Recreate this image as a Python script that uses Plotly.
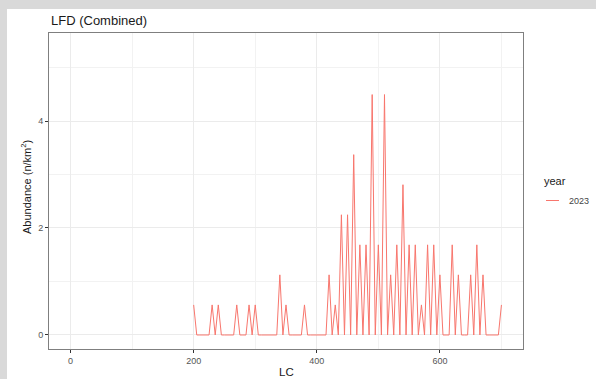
import plotly.graph_objects as go

# Length class (mm) and abundance (n/km^2) for the combined 2023 sample
LC = [200, 205, 210, 215, 220, 225, 230, 235, 240, 245,
      250, 255, 260, 265, 270, 275, 280, 285, 290, 295,
      300, 305, 310, 315, 320, 325, 330, 335, 340, 345,
      350, 355, 360, 365, 370, 375, 380, 385, 390, 395,
      400, 405, 410, 415, 420, 425, 430, 435, 440, 445,
      450, 455, 460, 465, 470, 475, 480, 485, 490, 495,
      500, 505, 510, 515, 520, 525, 530, 535, 540, 545,
      550, 555, 560, 565, 570, 575, 580, 585, 590, 595,
      600, 605, 610, 615, 620, 625, 630, 635, 640, 645,
      650, 655, 660, 665, 670, 675, 680, 685, 690, 695,
      700]

abundance = [0.562, 0, 0, 0, 0, 0, 0.562, 0, 0.562, 0,
             0, 0, 0, 0, 0.562, 0, 0, 0, 0.562, 0,
             0.562, 0, 0, 0, 0, 0, 0, 0, 1.124, 0,
             0.562, 0, 0, 0, 0, 0, 0.562, 0, 0, 0,
             0, 0, 0, 0, 1.124, 0, 0.562, 0, 2.247, 0,
             2.247, 0, 3.371, 0, 1.685, 0, 1.685, 0, 4.494, 0,
             1.685, 0, 4.494, 0, 1.124, 0, 1.685, 0, 2.809, 0,
             1.685, 0, 1.685, 0, 0.562, 0, 1.685, 0, 1.685, 0,
             1.124, 0, 0, 0, 1.685, 0, 1.124, 0, 0, 0,
             1.124, 0, 1.685, 0, 1.124, 0, 0, 0, 0, 0,
             0.562]

year = "2023"
x_ticks = [0, 200, 400, 600]
y_ticks = [0, 2, 4]

LINE_COLOR = "#F8766D"
FONT = "Liberation Sans, Arial, sans-serif"

W, H = 596, 379
L, R, T, B = 49, 523, 33, 349  # plot panel edges in pixels


def px_x(p):
    return (p - L) / (R - L)


def px_y(p):
    return (B - p) / (B - T)


fig = go.Figure(
    go.Scatter(
        x=LC, y=abundance, mode="lines", name=year,
        line=dict(color=LINE_COLOR, width=1),
        showlegend=False,
    )
)

axis_common = dict(
    showgrid=True, gridcolor="#ebebeb", gridwidth=1,
    ticks="outside", ticklen=3, tickwidth=1, tickcolor="#333333",
    tickfont=dict(size=9, color="#555555", family=FONT),
    showline=True, linecolor="#7f7f7f", linewidth=1, mirror=True,
    zeroline=False,
)

fig.update_xaxes(
    range=[-35, 735], tickvals=x_ticks,
    minor=dict(dtick=100, tick0=0, showgrid=True, gridcolor="#f2f2f2", gridwidth=0.6),
    **axis_common,
)
fig.update_yaxes(
    range=[-0.262, 5.645], tickvals=y_ticks,
    minor=dict(dtick=1, tick0=0, showgrid=True, gridcolor="#f2f2f2", gridwidth=0.6),
    **axis_common,
)

shapes = [
    # white page area inside the grey frame
    dict(type="rect", xref="paper", yref="paper",
         x0=px_x(7), x1=px_x(W), y0=px_y(H), y1=px_y(9),
         fillcolor="white", line=dict(width=0), layer="below"),
    # legend key
    dict(type="line", xref="paper", yref="paper",
         x0=px_x(546), x1=px_x(559), y0=px_y(200.5), y1=px_y(200.5),
         line=dict(color=LINE_COLOR, width=1)),
]

annotations = [
    dict(text="LFD (Combined)", xref="paper", yref="paper",
         x=px_x(49), y=px_y(20.5), xanchor="left", yanchor="middle",
         showarrow=False, font=dict(size=13, color="#1a1a1a", family=FONT)),
    dict(text="LC", xref="paper", yref="paper",
         x=0.5, y=px_y(371.5), xanchor="center", yanchor="middle",
         showarrow=False, font=dict(size=11.5, color="#1a1a1a", family=FONT)),
    dict(text="Abundance (n/km<sup>2</sup>)", xref="paper", yref="paper",
         x=px_x(26), y=px_y(187), xanchor="center", yanchor="middle",
         textangle=-90, showarrow=False,
         font=dict(size=11, color="#1a1a1a", family=FONT)),
    dict(text="year", xref="paper", yref="paper",
         x=px_x(542), y=px_y(181), xanchor="left", yanchor="middle",
         showarrow=False, font=dict(size=11, color="#1a1a1a", family=FONT)),
    dict(text=year, xref="paper", yref="paper",
         x=px_x(567), y=px_y(201), xanchor="left", yanchor="middle",
         showarrow=False, font=dict(size=9, color="#444444", family=FONT)),
]

fig.update_layout(
    width=W, height=H,
    margin=dict(l=L, r=W - R, t=T, b=H - B, pad=0),
    paper_bgcolor="#d9d9d9", plot_bgcolor="white",
    font=dict(family=FONT),
    showlegend=False,
    shapes=shapes, annotations=annotations,
)

fig.write_html("out.html")
